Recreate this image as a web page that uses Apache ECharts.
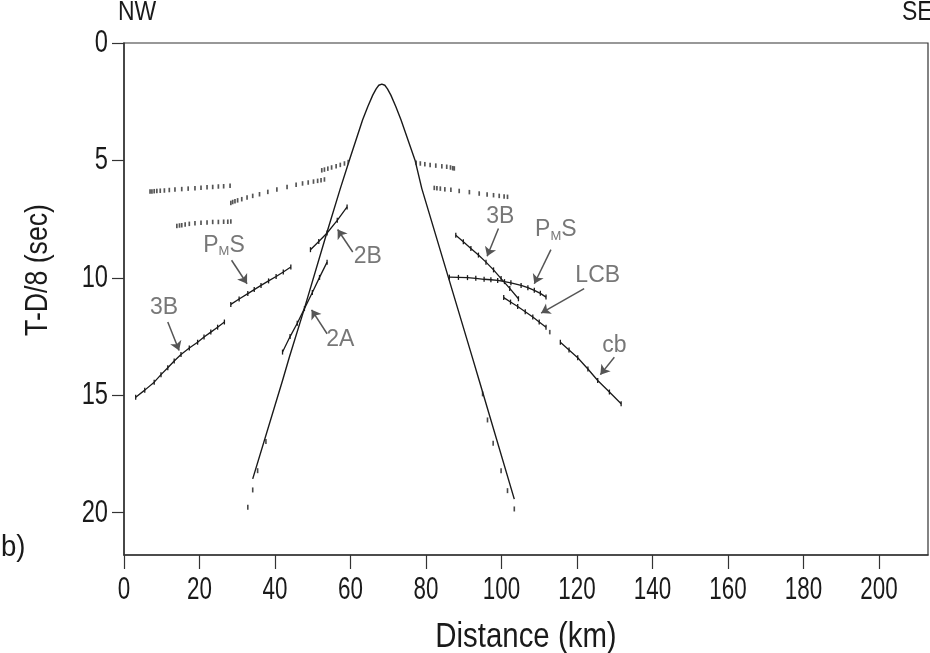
<!DOCTYPE html>
<html>
<head>
<meta charset="utf-8">
<script src="https://cdn.jsdelivr.net/npm/echarts@6/dist/echarts.min.js"></script>
<style>
  html, body { margin: 0; padding: 0; background: #fff; }
  #chart { width: 930px; height: 653px; }
</style>
</head>
<body>
<div id="chart"></div>
<script>
// Axis ticks
const distanceTicks = [0, 20, 40, 60, 80, 100, 120, 140, 160, 180, 200];
const timeTicks = [0, 5, 10, 15, 20];

// Direct water wave (distance km, reduced time s)
const directWave = [
  [34.1, 18.56], [42.0, 14.37], [43.8, 13.38], [47.8, 11.30], [53.8, 8.05],
  [57.3, 6.20], [59.7, 4.99], [63.2, 3.28], [64.6, 2.70], [65.9, 2.22],
  [66.8, 1.95], [67.5, 1.80], [68.3, 1.75], [69.1, 1.80], [69.8, 1.95],
  [70.7, 2.22], [72.0, 2.70], [73.4, 3.28], [77.1, 4.99], [78.9, 6.20],
  [92.4, 13.45], [94.1, 14.37], [103.4, 19.42]
];
const directPicks = [
  [32.8, 19.77], [34.1, 19.03], [35.4, 18.21], [37.6, 16.97],
  [95.0, 14.94], [96.3, 16.05], [97.8, 17.04], [99.9, 18.21], [101.6, 19.06], [103.4, 19.84]
];

// Travel-time branches with picks
const nw3B = [[3.1, 15.08], [5.5, 14.78], [8.0, 14.44], [9.8, 14.12], [11.6, 13.83], [13.3, 13.54], [15.1, 13.26], [17.3, 12.99], [19.5, 12.74], [21.2, 12.52], [23.0, 12.31], [24.8, 12.10], [26.6, 11.88]];
const nwPmS = [[28.3, 11.13], [30.5, 10.90], [32.8, 10.67], [34.5, 10.50], [36.3, 10.32], [38.3, 10.13], [40.3, 9.94], [42.2, 9.75], [44.2, 9.54]];
const nw2B = [[49.4, 8.80], [51.6, 8.45], [53.8, 8.09], [56.5, 7.55], [59.1, 6.98]];
const nw2A = [[42.0, 13.16], [44.0, 12.50], [45.9, 11.93], [47.8, 11.31], [49.9, 10.62], [51.8, 9.98], [53.8, 9.33]];
const se3B = [[87.9, 8.19], [89.9, 8.46], [91.9, 8.75], [93.9, 9.03], [95.9, 9.33], [97.9, 9.66], [99.9, 10.03], [102.2, 10.45], [104.5, 10.89]];
const sePmS = [[86.2, 9.97], [88.6, 9.98], [91.0, 9.99], [93.2, 10.02], [95.4, 10.06], [97.2, 10.08], [99.0, 10.11], [100.8, 10.16], [102.5, 10.21], [105.2, 10.32], [107.0, 10.42], [108.7, 10.53], [110.3, 10.66], [111.8, 10.82]];
const seLCB = [[100.6, 10.84], [102.4, 11.03], [104.3, 11.22], [106.3, 11.44], [108.3, 11.67], [110.0, 11.88], [111.8, 12.10]];
const seLCBEnd = [[112.8, 12.31]];
const seCb = [[115.6, 12.74], [117.9, 13.07], [120.2, 13.40], [122.9, 13.88], [125.5, 14.37], [128.6, 14.86], [131.7, 15.36]];

// Dotted phase picks
const dotsNwUpper = [[6.9, 6.32], [7.4, 6.32], [8.0, 6.31], [8.7, 6.30], [9.6, 6.29], [10.7, 6.28], [12.0, 6.26], [13.5, 6.24], [15.3, 6.22], [17.0, 6.20], [18.8, 6.18], [20.4, 6.16], [22.0, 6.14], [23.5, 6.13], [25.0, 6.11], [26.4, 6.10], [28.1, 6.08]];
const dotsNwRising = [[28.3, 6.81], [28.8, 6.77], [29.4, 6.74], [30.1, 6.70], [31.2, 6.65], [32.6, 6.58], [34.1, 6.51], [35.9, 6.44], [38.1, 6.34], [40.5, 6.24], [43.2, 6.13], [45.6, 6.04], [47.3, 5.98], [48.8, 5.94], [50.2, 5.90], [51.3, 5.87], [52.2, 5.84], [53.1, 5.81]];
const dotsNwNear = [[52.4, 5.42], [53.1, 5.39], [54.0, 5.35], [55.0, 5.30], [56.2, 5.25], [57.3, 5.19], [58.4, 5.13], [59.4, 5.07]];
const dotsNwLower = [[14.0, 7.79], [14.7, 7.77], [15.3, 7.76], [16.2, 7.73], [17.3, 7.70], [18.8, 7.68], [20.4, 7.65], [22.0, 7.64], [23.5, 7.62], [25.0, 7.62], [26.4, 7.61], [27.5, 7.61], [28.3, 7.60]];
const dotsSeNear = [[77.4, 5.10], [78.5, 5.13], [79.7, 5.16], [81.1, 5.19], [82.6, 5.22], [84.2, 5.25], [85.5, 5.27], [86.5, 5.30], [87.1, 5.33], [87.5, 5.34]];
const dotsSeFar = [[82.2, 6.17], [82.9, 6.18], [83.8, 6.20], [85.0, 6.23], [86.6, 6.25], [88.8, 6.30], [91.5, 6.35], [94.1, 6.41], [96.2, 6.45], [97.9, 6.48], [99.4, 6.51], [100.7, 6.54], [101.6, 6.55]];

// Phase annotations: text anchor and arrow (from -> to)
const noteText = ['3B', 'PMS', '2B', '2A', '3B', 'PMS', 'LCB', 'cb'];
const noteAt = [[10.6, 11.26], [26.5, 8.61], [64.6, 9.11], [57.3, 12.64], [99.7, 7.41], [114.4, 7.94], [125.5, 9.89], [129.9, 12.88]];
const arrowFrom = [[11.6, 11.88], [28.5, 9.25], [60.6, 8.90], [53.8, 12.38], [99.2, 7.90], [113.1, 8.80], [121.9, 10.46], [129.9, 13.38]];
const arrowTo = [[14.6, 13.09], [32.6, 10.25], [56.6, 7.94], [49.7, 11.36], [96.2, 9.08], [108.7, 10.25], [110.5, 11.50], [126.2, 14.12]];

const FONT = "'Liberation Sans', Arial, Helvetica, sans-serif";
const INK = '#1a1a1a';
const NOTE = '#555555';

function pickedLine(data) {
  return {
    type: 'line', data: data, showSymbol: true, symbol: 'rect', symbolSize: [1.3, 5],
    itemStyle: { color: INK }, lineStyle: { color: INK, width: 1.3 }, silent: true, z: 3
  };
}
function dotted(data) {
  return {
    type: 'scatter', data: data, symbol: 'rect', symbolSize: [1.7, 4.5],
    itemStyle: { color: '#2a2a2a' }, silent: true, z: 3
  };
}

const chart = echarts.init(document.getElementById('chart'), null, { renderer: 'canvas' });

const noteData = noteAt.map((p, i) => [p[0], p[1], noteText[i]]);
const arrowData = arrowFrom.map((p, i) => ({ coords: [p, arrowTo[i]] }));

chart.setOption({
  animation: false,
  backgroundColor: '#ffffff',
  grid: { left: 124, right: 2, top: 43, bottom: 98, show: true, borderColor: '#333', borderWidth: 1.2, backgroundColor: 'transparent' },
  xAxis: {
    type: 'value', min: 0, max: 213, interval: 20,
    axisLine: { onZero: false, lineStyle: { color: '#333', width: 1.5 } },
    axisTick: { length: 14, customValues: distanceTicks, lineStyle: { color: '#333', width: 1.2 } },
    axisLabel: { show: false },
    splitLine: { show: false }
  },
  yAxis: {
    type: 'value', inverse: true, min: 0, max: 21.8, interval: 5,
    axisLine: { onZero: false, lineStyle: { color: '#333', width: 1.5 } },
    axisTick: { length: 12, customValues: timeTicks, lineStyle: { color: '#333', width: 1.2 } },
    axisLabel: { show: false },
    splitLine: { show: false }
  },
  series: [
    { type: 'line', data: directWave, showSymbol: false, lineStyle: { color: INK, width: 1.4 }, silent: true, z: 3 },
    { type: 'scatter', data: directPicks, symbol: 'rect', symbolSize: [1.6, 5], itemStyle: { color: INK }, silent: true },
    pickedLine(nw3B), pickedLine(nwPmS), pickedLine(nw2B), pickedLine(nw2A),
    pickedLine(se3B), pickedLine(sePmS), pickedLine(seLCB), pickedLine(seCb),
    dotted(seLCBEnd),
    dotted(dotsNwUpper), dotted(dotsNwRising), dotted(dotsNwNear), dotted(dotsNwLower),
    dotted(dotsSeNear), dotted(dotsSeFar),
    {
      type: 'lines', coordinateSystem: 'cartesian2d', data: arrowData,
      symbol: ['none', 'arrow'], symbolSize: [0, 9],
      lineStyle: { color: NOTE, width: 1.5, opacity: 1 }, silent: true, z: 4
    },
    {
      type: 'scatter', data: noteData, symbolSize: 0, silent: true, z: 5,
      label: {
        show: true, position: 'inside', color: NOTE, fontFamily: FONT, fontSize: 23,
        formatter: p => p.data[2] === 'PMS' ? '{a|P}{b|M}{a|S}' : p.data[2],
        rich: {
          a: { fontFamily: FONT, fontSize: 23, color: NOTE },
          b: { fontFamily: FONT, fontSize: 13, color: NOTE, padding: [13, 0, 0, 0] }
        }
      }
    }
  ]
});

// Condensed tick labels and titles, placed through the axis scales
function condensed(text, x, y, size, sx, align, vAlign, rot) {
  return {
    type: 'text', x: x, y: y, scaleX: sx, rotation: rot || 0, silent: true, z: 10,
    style: { text: text, font: size + 'px ' + FONT, fill: INK, align: align, verticalAlign: vAlign }
  };
}
const xLabelY = chart.convertToPixel({ yAxisIndex: 0 }, 21.8) + 35;
const yLabelX = chart.convertToPixel({ xAxisIndex: 0 }, 0) - 16;
const texts = [];
distanceTicks.forEach(v => {
  texts.push(condensed(String(v), chart.convertToPixel({ xAxisIndex: 0 }, v), xLabelY, 32, 0.7, 'center', 'middle'));
});
timeTicks.forEach(v => {
  texts.push(condensed(String(v), yLabelX, chart.convertToPixel({ yAxisIndex: 0 }, v), 32, 0.74, 'right', 'middle'));
});
const xMid = (chart.convertToPixel({ xAxisIndex: 0 }, 0) + 928) / 2;
texts.push(condensed('Distance (km)', xMid, 637, 35, 0.84, 'center', 'middle'));
texts.push(condensed('T-D/8 (sec)', 38, 270, 31, 0.86, 'center', 'middle', Math.PI / 2));
texts.push(condensed('NW', 118, 12, 28, 0.82, 'left', 'middle'));
texts.push(condensed('SE', 902, 12, 28, 0.82, 'left', 'middle'));
texts.push(condensed('b)', 1, 548, 30, 0.92, 'left', 'middle'));
chart.setOption({ graphic: texts });
</script>
</body>
</html>
